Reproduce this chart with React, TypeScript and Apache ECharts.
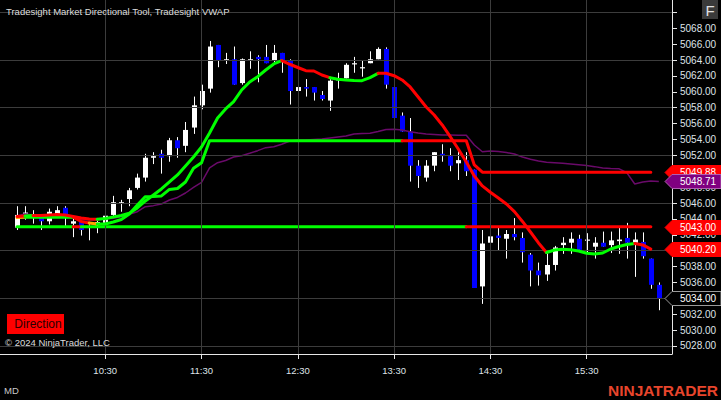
import React, { useEffect, useRef } from "react";
import * as echarts from "echarts";

// ---------- DATA (5-minute bars, index 0 = 09:35) ----------
const opens = [
  5042.9, 5044.7, 5044.2, 5044.2, 5043.7, 5044.6, 5045.4, 5043.4, 5043.7, 5042.9,
  5043.2, 5043.5, 5044.5, 5045.9, 5046.5, 5047.9, 5049.2, 5051.7, 5052.2, 5051.9,
  5053.9, 5053.2, 5055.5, 5058.3, 5060.4, 5065.9, 5063.9, 5064.1, 5061.1, 5064.0,
  5064.4, 5064.4, 5063.9, 5064.9, 5063.9, 5060.1, 5060.6, 5060.6, 5059.6, 5058.9,
  5061.5, 5061.7, 5063.5, 5063.0, 5063.6, 5064.1, 5065.4, 5060.6, 5057.0, 5055.0,
  5050.7, 5049.2, 5050.7, 5052.2, 5051.9, 5051.0, 5051.4, 5050.2, 5035.5, 5041.0,
  5041.9, 5041.5, 5042.1, 5041.6, 5039.5, 5037.5, 5037.0, 5038.2, 5040.7, 5041.0,
  5041.5, 5041.35, 5040.5, 5041.0, 5040.7, 5041.2, 5041.6, 5041.0, 5041.1, 5039.0,
  5035.7,
];
const highs = [
  5045.6, 5045.6, 5045.1, 5044.6, 5045.3, 5045.6, 5045.6, 5044.1, 5043.7, 5043.5,
  5044.1, 5044.8, 5046.9, 5046.4, 5047.9, 5049.7, 5052.2, 5052.4, 5052.7, 5054.2,
  5054.3, 5056.2, 5059.4, 5060.9, 5066.4, 5065.9, 5064.9, 5065.7, 5064.2, 5065.1,
  5064.6, 5065.9, 5065.9, 5064.9, 5064.1, 5060.9, 5061.6, 5060.6, 5060.1, 5061.6,
  5062.4, 5063.6, 5064.4, 5063.9, 5065.1, 5065.6, 5065.6, 5060.9, 5057.4, 5056.7,
  5051.4, 5051.4, 5052.4, 5053.4, 5052.9, 5052.9, 5052.4, 5050.2, 5042.6, 5042.7,
  5043.0, 5042.6, 5044.1, 5042.3, 5039.7, 5038.5, 5039.9, 5040.6, 5041.7, 5042.3,
  5042.0, 5042.2, 5041.7, 5042.4, 5042.4, 5043.1, 5043.5, 5042.3, 5042.3, 5039.0,
  5036.0,
];
const lows = [
  5042.6, 5043.9, 5043.4, 5042.6, 5043.3, 5044.5, 5043.1, 5041.7, 5041.9, 5041.3,
  5042.2, 5043.3, 5044.3, 5044.9, 5045.6, 5047.7, 5048.7, 5050.9, 5049.7, 5051.2,
  5051.7, 5052.4, 5054.7, 5057.8, 5059.9, 5063.1, 5063.5, 5060.9, 5060.9, 5062.9,
  5061.2, 5063.6, 5063.6, 5062.4, 5058.4, 5058.1, 5059.4, 5058.9, 5058.9, 5057.6,
  5060.4, 5061.7, 5062.4, 5061.9, 5063.6, 5064.1, 5060.4, 5056.2, 5055.0, 5048.7,
  5047.9, 5048.7, 5050.0, 5051.2, 5050.0, 5048.9, 5049.4, 5035.3, 5033.3, 5039.0,
  5040.0, 5039.0, 5041.3, 5038.5, 5035.5, 5035.6, 5036.2, 5037.5, 5039.6, 5039.6,
  5040.1, 5039.6, 5039.0, 5040.5, 5039.7, 5039.6, 5039.0, 5036.7, 5039.0, 5035.2,
  5032.5,
];
const closes = [
  5044.5, 5044.8, 5044.4, 5043.7, 5044.9, 5045.1, 5044.6, 5043.7, 5042.6, 5043.0,
  5043.6, 5044.4, 5046.1, 5046.1, 5047.6, 5049.2, 5051.7, 5051.9, 5051.7, 5053.9,
  5052.9, 5055.2, 5058.3, 5060.1, 5065.7, 5063.9, 5064.1, 5060.9, 5064.1, 5064.1,
  5064.1, 5063.6, 5064.9, 5063.9, 5060.1, 5060.6, 5060.4, 5059.9, 5059.1, 5061.4,
  5061.6, 5063.4, 5063.6, 5063.1, 5064.1, 5065.4, 5060.9, 5056.7, 5055.0, 5050.7,
  5049.4, 5050.7, 5052.4, 5051.9, 5050.7, 5051.4, 5050.0, 5035.3, 5040.9, 5041.8,
  5041.6, 5042.1, 5041.7, 5039.8, 5037.5, 5036.9, 5038.2, 5040.4, 5041.0, 5041.5,
  5040.1, 5041.4, 5041.0, 5040.5, 5041.3, 5041.4, 5041.0, 5041.4, 5039.3, 5035.7,
  5034.0,
];

// Tradesight VWAP
const vwap = [
  5044.37, 5044.62, 5044.50, 5044.37, 5044.31, 5044.37, 5044.31, 5044.12, 5043.93, 5043.87,
  5043.87, 5043.99, 5044.08, 5044.28, 5044.58, 5044.91, 5045.54, 5045.67, 5045.88, 5046.38,
  5046.70, 5047.26, 5047.96, 5048.59, 5050.41, 5051.08, 5051.36, 5051.80, 5051.96, 5052.26,
  5052.59, 5052.97, 5053.09, 5053.40, 5053.81, 5053.94, 5053.94, 5054.00, 5054.06, 5054.19,
  5054.32, 5054.44, 5054.69, 5054.76, 5054.78, 5055.01, 5055.26, 5055.28, 5055.20, 5054.98,
  5054.82, 5054.69, 5054.63, 5054.57, 5054.57, 5054.53, 5054.53, 5053.31, 5052.46, 5052.55,
  5052.49, 5052.36, 5052.17, 5051.80, 5051.51, 5051.29, 5051.13, 5051.07, 5051.00, 5050.92,
  5050.83, 5050.73, 5050.58, 5050.41, 5050.35, 5050.32, 5049.82, 5048.40, 5048.65, 5048.78,
  5048.71,
];

// Directional tool: fast line (A), stepped line (B), level line (C) — bars 0..79
const lineA = [
  5044.31, 5044.37, 5044.43, 5044.43, 5044.50, 5044.56, 5044.50, 5044.31, 5044.12, 5043.99,
  5043.95, 5044.05, 5044.24, 5044.43, 5044.71, 5045.38, 5046.26, 5047.01, 5047.77, 5048.65,
  5049.53, 5050.66, 5051.80, 5053.06, 5054.82, 5056.71, 5057.84, 5058.76, 5060.23, 5061.24,
  5061.91, 5062.75, 5063.51, 5063.92, 5063.47, 5063.06, 5062.66, 5062.62, 5062.12, 5061.78,
  5061.58, 5061.49, 5061.43, 5061.40, 5061.78, 5062.33, 5062.33, 5062.03, 5061.49, 5060.61,
  5059.35, 5058.09, 5057.08, 5055.83, 5054.35, 5052.80, 5051.17, 5049.40, 5048.15, 5047.35,
  5046.64, 5045.88, 5044.91, 5043.68, 5042.35, 5040.97, 5039.77, 5040.09, 5040.18, 5040.11,
  5039.96, 5039.67, 5039.59, 5039.71, 5040.21, 5040.53, 5040.78, 5040.91, 5040.72, 5040.20,
];
const lineB = [
  5044.16, 5044.21, 5044.21, 5044.21, 5044.21, 5044.21, 5044.21, 5044.21, 5043.68, 5043.49,
  5043.36, 5043.36, 5043.61, 5043.93, 5044.62, 5045.75, 5046.80, 5046.82, 5046.89, 5047.71,
  5047.83, 5048.65, 5050.37, 5051.08, 5053.85, 5053.85, 5053.85, 5053.85, 5053.85, 5053.85,
  5053.85, 5053.85, 5053.85, 5053.85, 5053.85, 5053.85, 5053.85, 5053.85, 5053.85, 5053.85,
  5053.85, 5053.85, 5053.85, 5053.85, 5053.85, 5053.85, 5053.85, 5053.85, 5053.85, 5053.85,
  5053.85, 5053.85, 5053.85, 5053.85, 5053.85, 5053.85, 5053.85, 5050.79, 5049.88, 5049.88,
  5049.88, 5049.88, 5049.88, 5049.88, 5049.88, 5049.88, 5049.88, 5049.88, 5049.88, 5049.88,
  5049.88, 5049.88, 5049.88, 5049.88, 5049.88, 5049.88, 5049.88, 5049.88, 5049.88, 5049.88,
];
const lineC = [
  5043.0, 5043.0, 5043.0, 5043.0, 5043.0, 5043.0, 5043.0, 5043.0, 5043.0, 5043.0,
  5043.0, 5043.0, 5043.0, 5043.0, 5043.0, 5043.0, 5043.0, 5043.0, 5043.0, 5043.0,
  5043.0, 5043.0, 5043.0, 5043.0, 5043.0, 5043.0, 5043.0, 5043.0, 5043.0, 5043.0,
  5043.0, 5043.0, 5043.0, 5043.0, 5043.0, 5043.0, 5043.0, 5043.0, 5043.0, 5043.0,
  5043.0, 5043.0, 5043.0, 5043.0, 5043.0, 5043.0, 5043.0, 5043.0, 5043.0, 5043.0,
  5043.0, 5043.0, 5043.0, 5043.0, 5043.0, 5043.0, 5043.0, 5043.0, 5043.0, 5043.0,
  5043.0, 5043.0, 5043.0, 5043.0, 5043.0, 5043.0, 5043.0, 5043.0, 5043.0, 5043.0,
  5043.0, 5043.0, 5043.0, 5043.0, 5043.0, 5043.0, 5043.0, 5043.0, 5043.0, 5043.0,
];
// direction state runs: [fromBar, toBar, state]
const lineAStates: [number, number, string][] = [
  [0, 1, "down"], [1, 2, "up"], [2, 10, "down"], [10, 33, "up"], [33, 39, "down"],
  [39, 45, "up"], [45, 66, "down"], [66, 77, "up"], [77, 79, "down"],
];
const lineBStates: [number, number, string][] = [
  [0, 1, "flat"], [1, 7, "up"], [7, 9, "down"], [9, 10, "flat"], [10, 48, "up"], [48, 79, "down"],
];
const lineCStates: [number, number, string][] = [
  [0, 7, "up"], [7, 8, "down"], [8, 56, "up"], [56, 79, "down"],
];

const xTickBars = [11, 23, 35, 47, 59, 71];
const xTickLabels = ["10:30", "11:30", "12:30", "13:30", "14:30", "15:30"];
const yTickValues = [
  5028, 5030, 5032, 5034, 5036, 5038, 5040, 5042, 5044, 5046, 5048,
  5050, 5052, 5054, 5056, 5058, 5060, 5062, 5064, 5066, 5068, 5070,
];
const yLabelValues = [
  5028, 5030, 5032, 5034, 5036, 5038, 5040, 5042, 5044, 5046, 5048,
  5050, 5052, 5054, 5056, 5058, 5060, 5062, 5064, 5066, 5068,
];
const yGridValues = [5028, 5034, 5040, 5046, 5052, 5058, 5064, 5070];

// ---------- STYLE ----------
const FONT = '"Liberation Sans", Arial, Helvetica, sans-serif';
const GRID_RIGHT = 49;
const X_MIN = -2.12;
const X_MAX = 81.64;
const Y_MIN = 5026.99;
const Y_MAX = 5071.56;
const STATE_COLOR: Record<string, string> = { up: "#00ff00", down: "#ff0000", flat: "#ffa500" };
const AXIS_TEXT = "#dfe3e8";

export default function App() {
  const ref = useRef<HTMLDivElement>(null);

  useEffect(() => {
    const chart = echarts.init(ref.current!, null, { renderer: "svg" });

    const candleData = opens.map((o, i) => [i, o, highs[i], lows[i], closes[i]]);

    const segSeries = (values: number[], runs: [number, number, string][], width: number, z: number) =>
      runs.map(([a, b, s]) => ({
        type: "line",
        data: values.slice(a, b + 1).map((v, k) => [a + k, v]),
        showSymbol: false,
        symbol: "none",
        silent: true,
        z,
        lineStyle: { color: STATE_COLOR[s], width, cap: "round", join: "round" },
      }));

    const last = lineA.length - 1;
    const flags = [
      { value: lineB[last], fill: "#ff0000", stroke: "#ff0000" },
      { value: vwap[vwap.length - 1], fill: "#800080", stroke: "#b060b0" },
      { value: lineC[last], fill: "#ff0000", stroke: "#ff0000" },
      { value: lineA[last], fill: "#ff0000", stroke: "#ff0000" },
      { value: closes[closes.length - 1], fill: "#000000", stroke: "#9a9a9a" },
    ];

    const option: any = {
      animation: false,
      backgroundColor: "#000000",
      grid: { left: 0, right: GRID_RIGHT, top: 0, bottom: 46, containLabel: false },
      xAxis: {
        type: "value",
        min: X_MIN,
        max: X_MAX,
        splitLine: { show: false },
        axisLine: { show: true, onZero: false, lineStyle: { color: "#e6e6e6", width: 1 } },
        axisTick: { show: true, customValues: xTickBars, length: 5, lineStyle: { color: "#e6e6e6" } },
        axisLabel: {
          customValues: xTickBars,
          formatter: (v: number) => xTickLabels[xTickBars.indexOf(Math.round(v))] ?? "",
          color: AXIS_TEXT,
          fontSize: 9.5,
          fontFamily: FONT,
          margin: 11,
        },
      },
      yAxis: {
        type: "value",
        position: "right",
        min: Y_MIN,
        max: Y_MAX,
        scale: true,
        splitLine: { show: false },
        axisLine: { show: true, onZero: false, lineStyle: { color: "#e6e6e6", width: 1 } },
        axisTick: { show: true, customValues: yTickValues, length: 5, lineStyle: { color: "#e6e6e6" } },
        axisLabel: {
          customValues: yLabelValues,
          formatter: (v: number) => v.toFixed(2),
          color: AXIS_TEXT,
          fontSize: 10,
          fontFamily: FONT,
          margin: 8,
        },
      },
      series: [
        {
          type: "line",
          data: vwap.map((v, i) => [i, v]),
          showSymbol: false,
          silent: true,
          z: 1,
          lineStyle: { opacity: 0 },
          markLine: {
            silent: true,
            symbol: "none",
            label: { show: false },
            lineStyle: { color: "#3c3c3c", width: 1, type: "solid" },
            data: [
              ...yGridValues.map((v) => ({ yAxis: v })),
              ...xTickBars.map((v) => ({ xAxis: v })),
            ],
          },
        },
        {
          type: "custom",
          z: 2,
          silent: true,
          encode: { x: 0, y: [1, 2, 3, 4] },
          data: candleData,
          renderItem: (_p: any, api: any) => {
            const i = api.value(0);
            const o = api.value(1);
            const h = api.value(2);
            const l = api.value(3);
            const c = api.value(4);
            const pO = api.coord([i, o]);
            const yC = api.coord([i, c])[1];
            const yH = api.coord([i, h])[1];
            const yL = api.coord([i, l])[1];
            const up = c >= o;
            const top = Math.min(pO[1], yC);
            const bot = Math.max(pO[1], yC);
            const xr = Math.round(pO[0]);
            return {
              type: "group",
              children: [
                { type: "line", shape: { x1: xr + 0.5, y1: yH, x2: xr + 0.5, y2: yL }, style: { stroke: "#ffffff", lineWidth: 1 } },
                { type: "rect", shape: { x: xr - 2, y: top, width: 5, height: Math.max(1.2, bot - top) }, style: { fill: up ? "#ffffff" : "#0000ff" } },
              ],
            };
          },
        },
        {
          type: "line",
          data: vwap.map((v, i) => [i, v]),
          showSymbol: false,
          symbol: "none",
          silent: true,
          z: 3,
          lineStyle: { color: "#6a0a6a", width: 1.5 },
        },
        ...segSeries(lineC, lineCStates, 3, 4),
        ...segSeries(lineB, lineBStates, 3, 5),
        ...segSeries(lineA, lineAStates, 3, 6),
        {
          type: "custom",
          z: 10,
          silent: true,
          clip: false,
          encode: { x: 0, y: 1 },
          data: flags.map((f, k) => [last, f.value, k]),
          renderItem: (_p: any, api: any) => {
            const v = api.value(1);
            const k = api.value(2);
            const f = flags[k];
            const y = Math.round(api.coord([last, v])[1]) + 0.5;
            const ax = api.getWidth() - GRID_RIGHT;
            const w = api.getWidth();
            return {
              type: "group",
              children: [
                {
                  type: "polygon",
                  shape: { points: [[ax - 7, y], [ax, y - 7], [w, y - 7], [w, y + 7], [ax, y + 7]] },
                  style: { fill: f.fill, stroke: f.stroke, lineWidth: 1 },
                },
                {
                  type: "text",
                  style: { text: v.toFixed(2), x: ax + 8, y, fill: "#ffffff", fontSize: 10, fontFamily: FONT, verticalAlign: "middle", align: "left" },
                },
              ],
            };
          },
        },
      ],
      graphic: [
        { type: "text", x: 6, y: 11, z: 20, style: { text: "Tradesight Market Directional Tool, Tradesight VWAP", fill: "#dcdcdc", fontSize: 9.5, fontFamily: FONT, verticalAlign: "middle" } },
        { type: "rect", z: 20, shape: { x: 702, y: 0, width: 16, height: 19 }, style: { fill: "#3a3a3a" } },
        { type: "text", x: 710, y: 10, z: 21, style: { text: "F", fill: "#e0e0e0", fontSize: 15, fontFamily: FONT, align: "center", verticalAlign: "middle" } },
        { type: "rect", z: 20, shape: { x: 7, y: 314, width: 57, height: 20 }, style: { fill: "#ff0000" } },
        { type: "text", x: 38, y: 324, z: 21, style: { text: "Direction", fill: "#2a0000", fontSize: 12, fontFamily: FONT, align: "center", verticalAlign: "middle" } },
        { type: "text", x: 5, y: 342, z: 20, style: { text: "© 2024 NinjaTrader, LLC", fill: "#dcdcdc", fontSize: 9.5, fontFamily: FONT, verticalAlign: "middle" } },
        { type: "text", x: 4, y: 390, z: 20, style: { text: "MD", fill: "#c8c8c8", fontSize: 9.5, fontFamily: FONT, verticalAlign: "middle" } },
        { type: "text", x: 608, y: 390, z: 20, style: { text: "NINJATRADER", fill: "#e8452c", fontSize: 15.5, fontWeight: "bold", fontFamily: FONT, verticalAlign: "middle" } },
      ],
    };

    chart.setOption(option);
    return () => chart.dispose();
  }, []);

  return (
    <div
      ref={ref}
      style={{ position: "fixed", left: 0, top: 0, width: 721, height: 400, background: "#000" }}
    />
  );
}
